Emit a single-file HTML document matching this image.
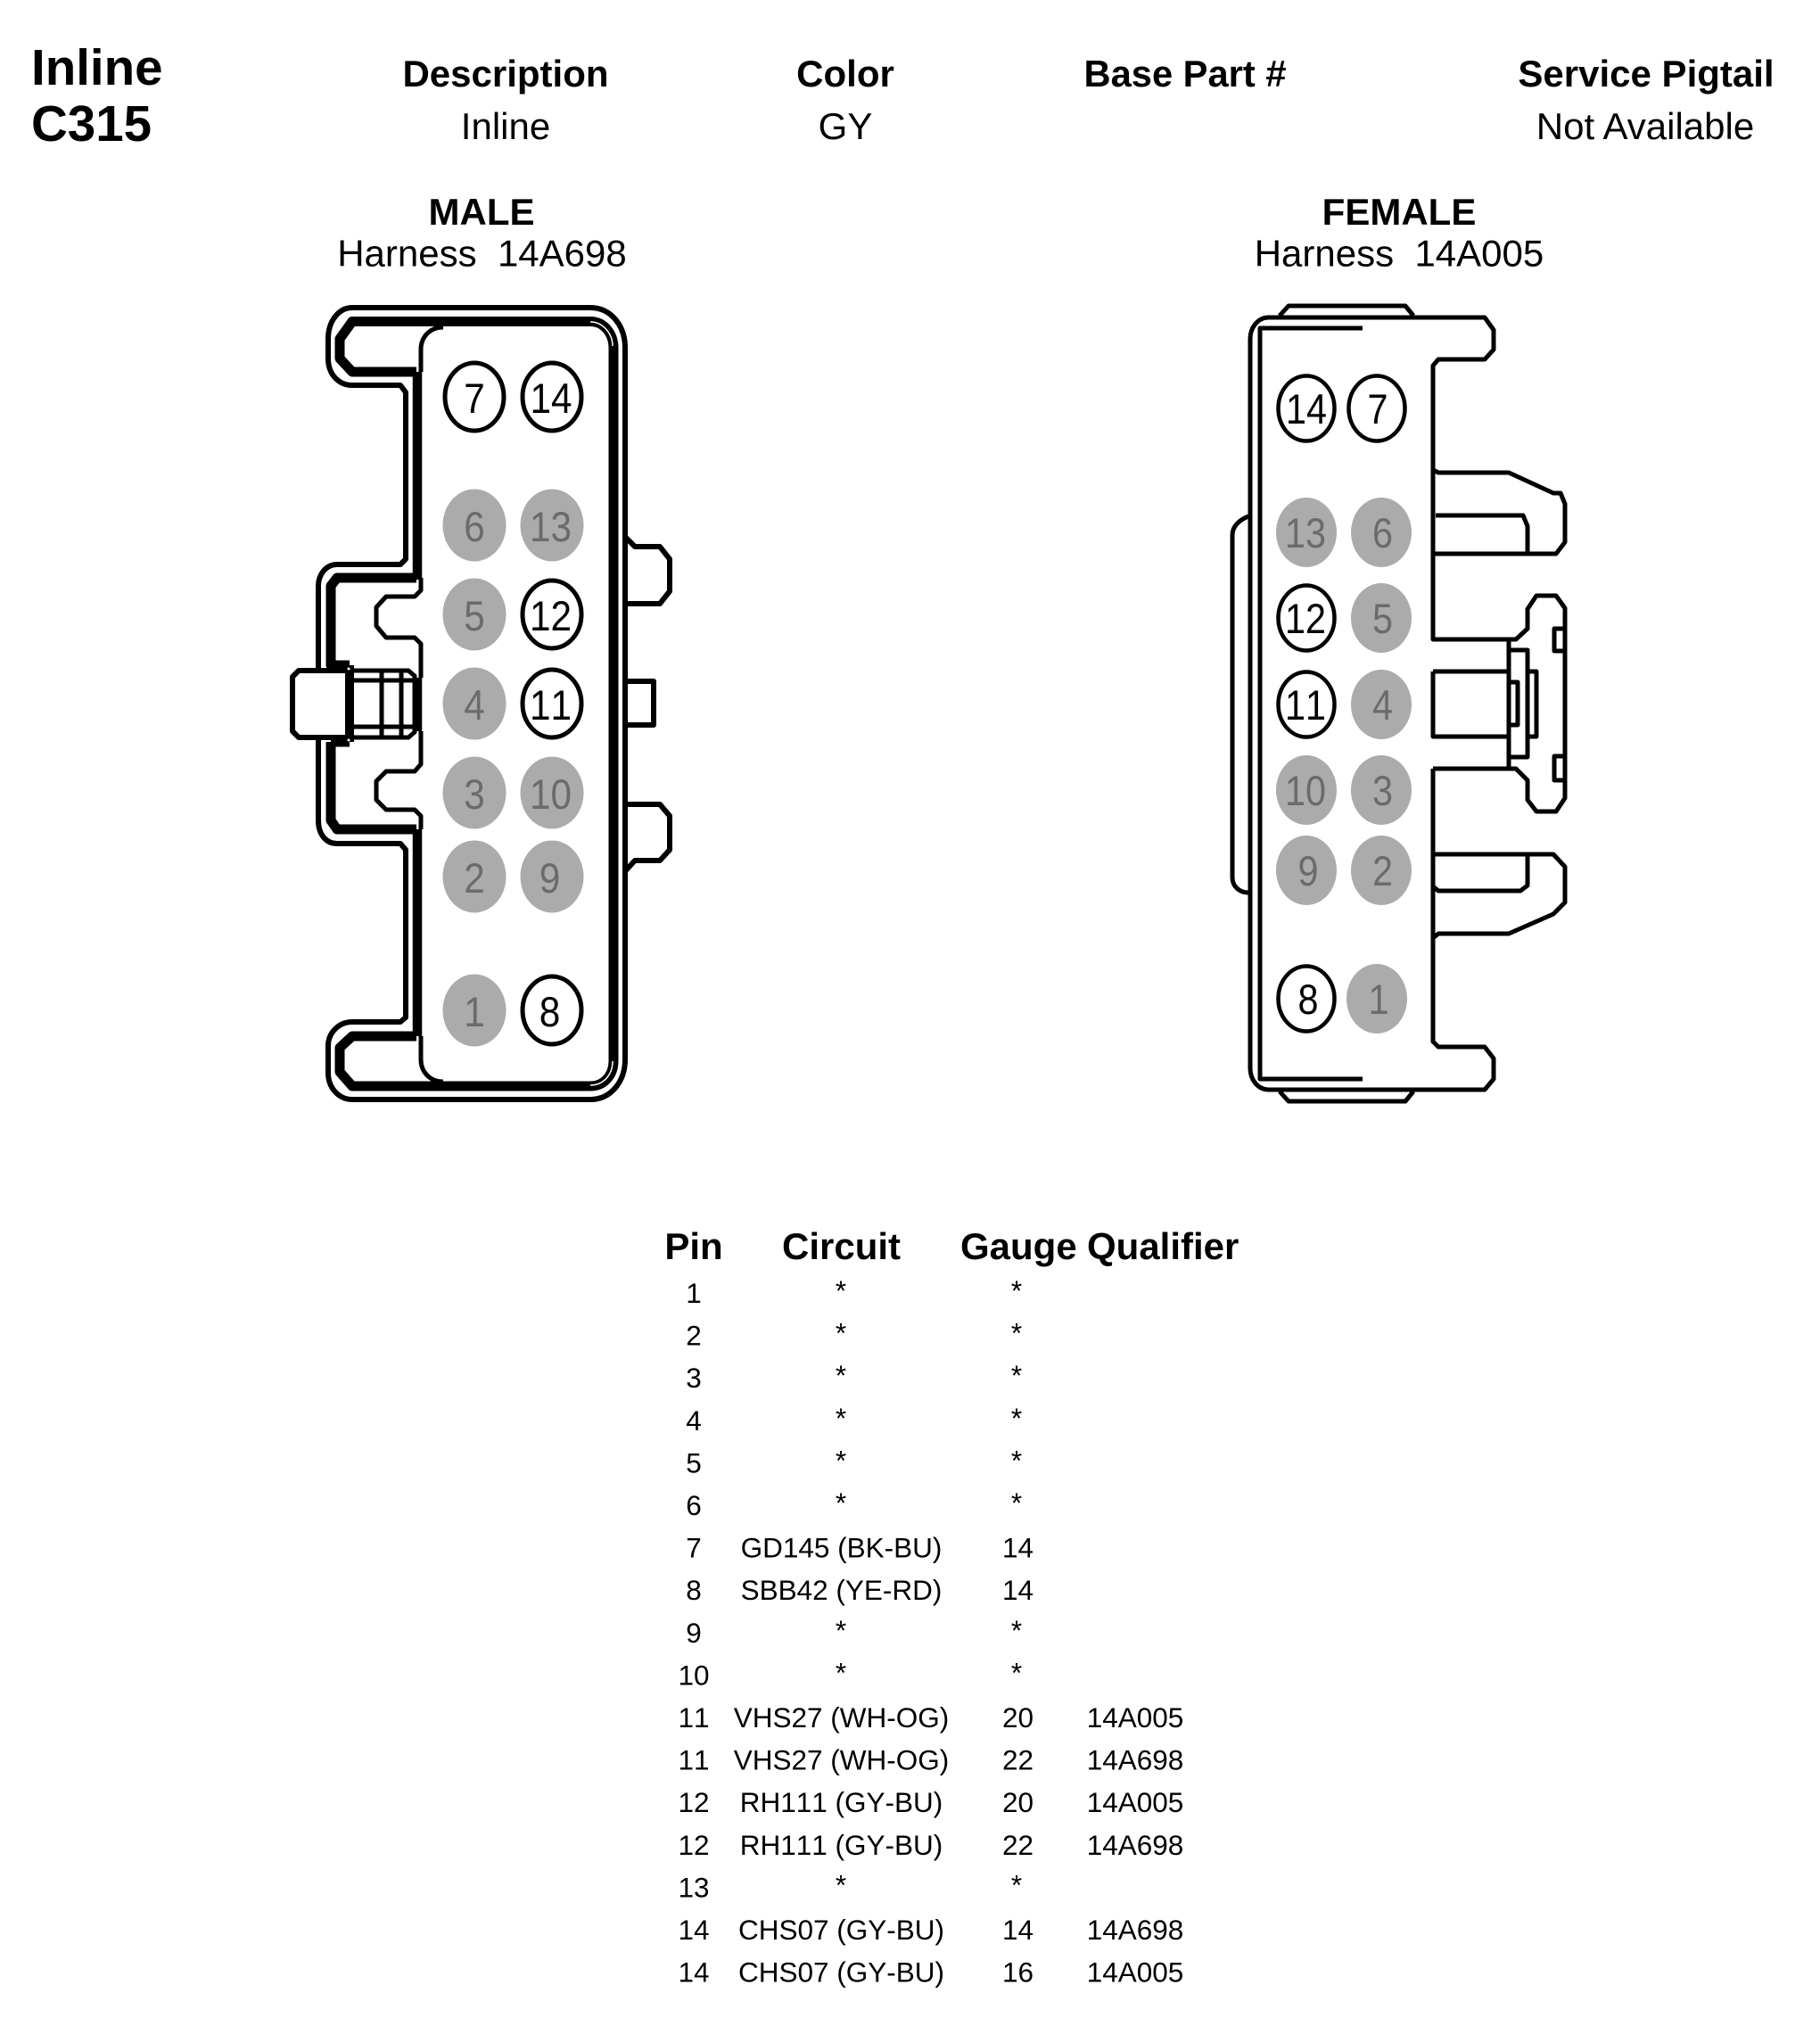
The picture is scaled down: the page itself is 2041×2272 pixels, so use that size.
<!DOCTYPE html>
<html><head><meta charset="utf-8"><title>Inline C315</title>
<style>
html,body{margin:0;padding:0;background:#fff}
svg{display:block}
text{font-family:"Liberation Sans",Arial,sans-serif;fill:#000}
.d{font-size:47px;text-anchor:middle;font-kerning:none}
.g{fill:#6b6b6b}
.r{font-size:31.5px;text-anchor:middle;font-kerning:none}
.l{fill:none;stroke:#000;stroke-linejoin:round}
</style></head><body>
<svg width="2041" height="2272" viewBox="0 0 2041 2272" xmlns="http://www.w3.org/2000/svg">
<rect width="2041" height="2272" fill="#fff"/>
<!-- headers -->
<text font-weight="bold" x="35" y="95" font-size="56.5">Inline</text>
<text font-weight="bold" x="35" y="158" font-size="56.5">C315</text>
<g font-size="42" font-weight="bold">
<text x="567" y="97" text-anchor="middle">Description</text>
<text x="948" y="97" text-anchor="middle">Color</text>
<text x="1329" y="97" text-anchor="middle" textLength="227" lengthAdjust="spacingAndGlyphs">Base Part #</text>
<text x="1846" y="97" text-anchor="middle">Service Pigtail</text>
<text x="540" y="252" text-anchor="middle">MALE</text>
<text x="1569" y="252" text-anchor="middle">FEMALE</text>
</g>
<g font-size="42">
<text x="567" y="156" text-anchor="middle">Inline</text>
<text x="948" y="156" text-anchor="middle">GY</text>
<text x="1845" y="156" text-anchor="middle">Not Available</text>
<text x="540.5" y="298.5" text-anchor="middle">Harness&#160;&#160;14A698</text>
<text x="1569" y="298.5" text-anchor="middle">Harness&#160;&#160;14A005</text>
</g>

<!-- MALE -->
<g class="l" stroke-width="6">
<path d="M357 752V657C357 645 365 633 378 633H449L455 627V440L449 432H395C380 432 368 420 368 402V380C368 360 380 345 395 345H662C685 345 701 365 701 390V1188C701 1213 685 1233 662 1233H395C380 1233 368 1220 368 1203V1173C368 1158 380 1146 395 1146H449L455 1141V953L449 946H378C365 946 357 935 357 920V827"/>
<path stroke-width="11" d="M467 417H395L381 402V380L395 360.5H662C678 360.5 688 375 688 390V1190C688 1205 678 1218 662 1218H395L381 1202V1175L395 1162H467"/>
<path stroke-width="10.5" d="M468 417V650M468 930V1162M468 760V820"/>
<path stroke-width="11" d="M467 648H378L371 657V746H392M371 832V920L378 930H467M371 832H392"/>
<path stroke-width="5" d="M472 417V392C472 378 482 367 497 367M472 1162V1188C472 1202 482 1213 497 1213"/>
<path stroke-width="5" d="M472 648V662L465 669H433L422 681V702L433 715H465L472 722V760M472 820V857L465 865H433L422 876V897L433 908H465L472 915V930"/>
<path stroke="#fff" stroke-width="1.5" d="M662 361C677 361 687 375 687 388M662 1217C677 1217 687 1205 687 1190"/>
<path d="M701 602L712 613H740L751 627V663L740 677H703M703 764H733V813H703M703 902H740L751 915V953L740 965H712L701 977"/>
<path fill="#fff" d="M335 752H390V827H335L328 820V759Z"/>
<path stroke-width="5" d="M395 752H458L465 758V821L458 827H395M395 763H465M395 815H465M428 752V827M450 752V827"/>
<path stroke-width="10" d="M392 746V832"/>
</g>
<circle cx="391" cy="750" r="1.5" fill="#fff"/><circle cx="391" cy="830" r="1.5" fill="#fff"/>

<g fill="#ababab">
<ellipse cx="532" cy="589" rx="35.5" ry="40.5"/><ellipse cx="619" cy="589" rx="35.5" ry="40.5"/>
<ellipse cx="532" cy="689" rx="35.5" ry="40.5"/>
<ellipse cx="532" cy="789" rx="35.5" ry="40.5"/>
<ellipse cx="532" cy="889" rx="35.5" ry="40.5"/><ellipse cx="619" cy="889" rx="35.5" ry="40.5"/>
<ellipse cx="532" cy="983" rx="35.5" ry="40.5"/><ellipse cx="619" cy="983" rx="35.5" ry="40.5"/>
<ellipse cx="532" cy="1133" rx="35.5" ry="40.5"/>
</g>
<g fill="#fff" stroke="#000" stroke-width="5">
<ellipse cx="532" cy="445" rx="33" ry="38"/><ellipse cx="619" cy="445" rx="33" ry="38"/>
<ellipse cx="619" cy="689" rx="33" ry="38"/><ellipse cx="619" cy="789" rx="33" ry="38"/>
<ellipse cx="619" cy="1133" rx="33" ry="38"/>
</g>
<text class="d" transform="translate(532 463) scale(.9 1)">7</text>
<text class="d" transform="translate(618 463) scale(.9 1)">14</text>
<text class="d g" transform="translate(532 607) scale(.9 1)">6</text>
<text class="d g" transform="translate(617.5 607) scale(.9 1)">13</text>
<text class="d g" transform="translate(532 707) scale(.9 1)">5</text>
<text class="d" transform="translate(617.5 707) scale(.9 1)">12</text>
<text class="d g" transform="translate(532 807) scale(.9 1)">4</text>
<text class="d" transform="translate(617.5 807) scale(.9 1)">11</text>
<text class="d g" transform="translate(532 907) scale(.9 1)">3</text>
<text class="d g" transform="translate(617.5 907) scale(.9 1)">10</text>
<text class="d g" transform="translate(532 1001) scale(.9 1)">2</text>
<text class="d g" transform="translate(616.5 1001) scale(.9 1)">9</text>
<text class="d g" transform="translate(532 1151) scale(.9 1)">1</text>
<text class="d" transform="translate(616.5 1151) scale(.9 1)">8</text>

<!-- FEMALE -->
<g class="l" stroke-width="5">
<path d="M1423 356H1665L1675 370V392L1665 403H1613L1607 410V527L1613 530H1692L1742 553H1750L1755 565V608L1745 621H1607M1610 578H1708L1713 590V621M1607 410V717H1700L1713 705V683L1723 668H1745L1755 682V895L1745 910H1723L1713 897V875L1700 862H1607"/>
<path d="M1607 753H1692M1607 753V826H1692M1692 717V862M1692 729H1713V849H1692M1713 753H1723V826H1713M1692 765H1702V813H1692"/>
<path d="M1755 705H1743V730H1755M1755 848H1743V875H1755"/>
<path d="M1423 356C1410 356 1402 368 1402 380V1198C1402 1210 1410 1222 1423 1222H1665L1675 1210V1187L1665 1174H1613L1607 1168V1052L1613 1047H1692L1742 1025L1755 1012V972L1742 958H1607M1713 958V993L1705 999H1613L1607 994M1607 862V1052"/>
<path d="M1528 368H1413V1210H1528"/>
<path d="M1435 354L1445 343H1576L1585 354M1435 1224L1445 1235H1576L1585 1224"/>
<path d="M1400 579C1390 583 1382 590 1382 600V984C1382 994 1390 1001 1400 1001"/>
</g>
<g fill="#ababab">
<ellipse cx="1465" cy="597" rx="34" ry="39"/><ellipse cx="1549" cy="597" rx="34" ry="39"/>
<ellipse cx="1549" cy="693" rx="34" ry="39"/>
<ellipse cx="1549" cy="790" rx="34" ry="39"/>
<ellipse cx="1465" cy="886" rx="34" ry="39"/><ellipse cx="1549" cy="886" rx="34" ry="39"/>
<ellipse cx="1465" cy="976" rx="34" ry="39"/><ellipse cx="1549" cy="976" rx="34" ry="39"/>
<ellipse cx="1544" cy="1120" rx="34" ry="39"/>
</g>
<g fill="#fff" stroke="#000" stroke-width="4.5">
<ellipse cx="1465" cy="458" rx="31.5" ry="36.5"/><ellipse cx="1544" cy="458" rx="31.5" ry="36.5"/>
<ellipse cx="1465" cy="693" rx="31.5" ry="36.5"/><ellipse cx="1465" cy="790" rx="31.5" ry="36.5"/>
<ellipse cx="1465" cy="1120" rx="31.5" ry="36.5"/>
</g>
<text class="d" transform="translate(1465 475) scale(.88 1)">14</text>
<text class="d" transform="translate(1545 475) scale(.88 1)">7</text>
<text class="d g" transform="translate(1464 614) scale(.88 1)">13</text>
<text class="d g" transform="translate(1550.5 614) scale(.88 1)">6</text>
<text class="d" transform="translate(1464 710) scale(.88 1)">12</text>
<text class="d g" transform="translate(1550.5 710) scale(.88 1)">5</text>
<text class="d" transform="translate(1464 807) scale(.88 1)">11</text>
<text class="d g" transform="translate(1550.5 807) scale(.88 1)">4</text>
<text class="d g" transform="translate(1464 903) scale(.88 1)">10</text>
<text class="d g" transform="translate(1550.5 903) scale(.88 1)">3</text>
<text class="d g" transform="translate(1467 993) scale(.88 1)">9</text>
<text class="d g" transform="translate(1550.5 993) scale(.88 1)">2</text>
<text class="d" transform="translate(1467 1137) scale(.88 1)">8</text>
<text class="d g" transform="translate(1546 1137) scale(.88 1)">1</text>

<!-- TABLE -->
<g font-size="42" font-weight="bold">
<text x="778" y="1412" text-anchor="middle">Pin</text>
<text x="943.5" y="1412" text-anchor="middle">Circuit</text>
<text x="1077" y="1412">Gauge</text>
<text x="1219" y="1412">Qualifier</text>
</g>
<g>
<text class="r" x="778" y="1461">1</text><text class="r" x="943" y="1458">*</text><text class="r" x="1140" y="1458">*</text>
<text class="r" x="778" y="1508.6">2</text><text class="r" x="943" y="1505.6">*</text><text class="r" x="1140" y="1505.6">*</text>
<text class="r" x="778" y="1556.2">3</text><text class="r" x="943" y="1553.2">*</text><text class="r" x="1140" y="1553.2">*</text>
<text class="r" x="778" y="1603.8">4</text><text class="r" x="943" y="1600.8">*</text><text class="r" x="1140" y="1600.8">*</text>
<text class="r" x="778" y="1651.4">5</text><text class="r" x="943" y="1648.4">*</text><text class="r" x="1140" y="1648.4">*</text>
<text class="r" x="778" y="1699">6</text><text class="r" x="943" y="1696">*</text><text class="r" x="1140" y="1696">*</text>
<text class="r" x="778" y="1746.6">7</text><text class="r" x="943.5" y="1746.6">GD145 (BK-BU)</text><text class="r" x="1141.5" y="1746.6">14</text>
<text class="r" x="778" y="1794.2">8</text><text class="r" x="943.5" y="1794.2">SBB42 (YE-RD)</text><text class="r" x="1141.5" y="1794.2">14</text>
<text class="r" x="778" y="1841.8">9</text><text class="r" x="943" y="1838.8">*</text><text class="r" x="1140" y="1838.8">*</text>
<text class="r" x="778" y="1889.4">10</text><text class="r" x="943" y="1886.4">*</text><text class="r" x="1140" y="1886.4">*</text>
<text class="r" x="778" y="1937">11</text><text class="r" x="943.5" y="1937">VHS27 (WH-OG)</text><text class="r" x="1141.5" y="1937">20</text><text class="r" x="1273" y="1937">14A005</text>
<text class="r" x="778" y="1984.6">11</text><text class="r" x="943.5" y="1984.6">VHS27 (WH-OG)</text><text class="r" x="1141.5" y="1984.6">22</text><text class="r" x="1273" y="1984.6">14A698</text>
<text class="r" x="778" y="2032.2">12</text><text class="r" x="943.5" y="2032.2">RH111 (GY-BU)</text><text class="r" x="1141.5" y="2032.2">20</text><text class="r" x="1273" y="2032.2">14A005</text>
<text class="r" x="778" y="2079.8">12</text><text class="r" x="943.5" y="2079.8">RH111 (GY-BU)</text><text class="r" x="1141.5" y="2079.8">22</text><text class="r" x="1273" y="2079.8">14A698</text>
<text class="r" x="778" y="2127.4">13</text><text class="r" x="943" y="2124.4">*</text><text class="r" x="1140" y="2124.4">*</text>
<text class="r" x="778" y="2175">14</text><text class="r" x="943.5" y="2175">CHS07 (GY-BU)</text><text class="r" x="1141.5" y="2175">14</text><text class="r" x="1273" y="2175">14A698</text>
<text class="r" x="778" y="2222.6">14</text><text class="r" x="943.5" y="2222.6">CHS07 (GY-BU)</text><text class="r" x="1141.5" y="2222.6">16</text><text class="r" x="1273" y="2222.6">14A005</text>
</g>
</svg>
</body></html>
